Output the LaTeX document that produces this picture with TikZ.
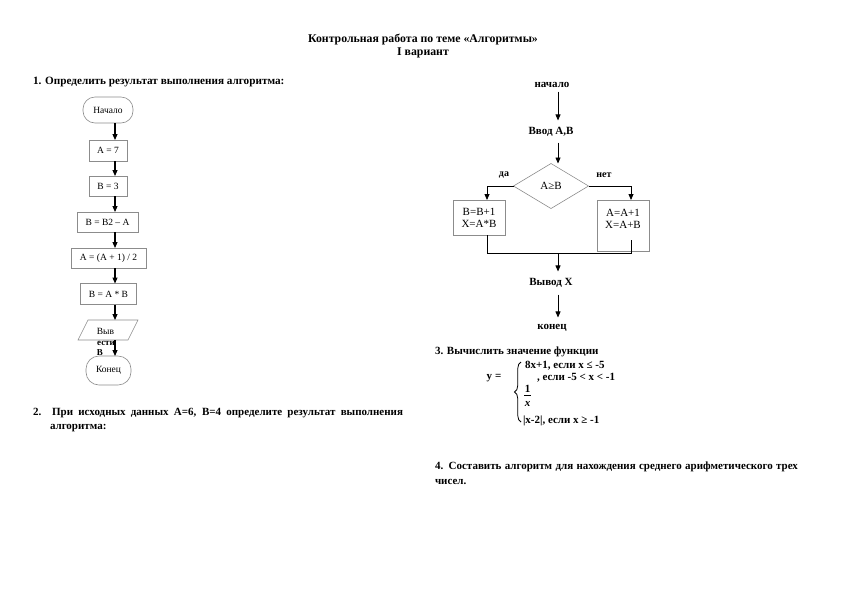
\documentclass[tikz,border=0pt]{standalone}
\usepackage{fontspec}
\setmainfont{Liberation Serif}
\usetikzlibrary{arrows.meta,shapes.geometric,decorations.pathreplacing,calc}
\begin{document}
\begin{tikzpicture}[x=1pt,y=-1pt,
  every node/.style={inner sep=0pt,outer sep=0pt},
  bt/.style={font=\bfseries\fontsize{11}{13}\selectfont},
  lbx/.style={draw=black!45,line width=0.6pt,fill=white,minimum height=21pt,font=\fontsize{9.5}{11}\selectfont},
  lterm/.style={lbx,rounded corners=12pt,minimum height=26pt},
  larr/.style={-{Triangle[length=6pt,width=5pt]},line width=1.1pt},
  rbx/.style={draw=black!45,line width=0.6pt,font=\fontsize{11}{12}\selectfont,align=center},
  rarr/.style={-{Triangle[length=6pt,width=5pt]},line width=0.8pt},
  rln/.style={line width=0.8pt}]
\useasboundingbox (0,0) rectangle (842,595);
\fill[white] (0,0) rectangle (842,595);

% title
\node[font=\bfseries\fontsize{11.8}{14}\selectfont] (title) at (423,40) {Контрольная работа по теме «Алгоритмы»};
\node[font=\bfseries\fontsize{11.8}{14}\selectfont] (var) at (423,53) {I вариант};

% item 1
\node[font=\bfseries\fontsize{11.2}{13}\selectfont,anchor=west] (q1) at (33,82) {1. Определить результат выполнения алгоритма:};

% left flowchart
\coordinate (ax) at (115,0);
\node[lterm,minimum width=50pt] (n0) at (108,110) {Начало};
\node[lbx,minimum width=38pt] (n1) at (108,150.5) {A = 7};
\node[lbx,minimum width=38pt,minimum height=20pt] (n2) at (108,186) {B = 3};
\node[lbx,minimum width=61pt,minimum height=20pt] (n3) at (107.5,222) {B = B2 – A};
\node[lbx,minimum width=75pt,minimum height=20pt] (n4) at (108.5,258) {A = (A + 1) / 2};
\node[lbx,minimum width=56pt,minimum height=21pt] (n5) at (108.5,294) {B = A * B};
\node[minimum width=60pt,minimum height=20pt] (n6) at (108,330) {};
\draw[draw=black!45,line width=0.6pt] ($(n6.north west)+(10,0)$) -- (n6.north east) -- ($(n6.south east)+(-10,0)$) -- (n6.south west) -- cycle;
\node[font=\fontsize{9.5}{11}\selectfont] (n6t) at (105.5,331) {Выв};
\node[font=\bfseries\fontsize{9}{10}\selectfont] (n6u) at (106,343) {ести};
\node[font=\bfseries\fontsize{9}{10}\selectfont] (n6v) at (100,353) {В};
\node[lterm,minimum width=45pt,minimum height=29pt,rounded corners=13pt] (n7) at (108.5,370.5) {Конец};
\draw[larr] (n0.south -| ax) -- (n1.north -| ax);
\draw[larr] (n1.south -| ax) -- (n2.north -| ax);
\draw[larr] (n2.south -| ax) -- (n3.north -| ax);
\draw[larr] (n3.south -| ax) -- (n4.north -| ax);
\draw[larr] (n4.south -| ax) -- (n5.north -| ax);
\draw[larr] (n5.south -| ax) -- (n6.north -| ax);
\draw[larr] (n6.south -| ax) -- (n7.north -| ax);

% item 2
\node[bt,anchor=west] (q2a) at (33,413) {\makebox[370pt][s]{2. При исходных данных А=6, В=4 определите результат выполнения}};
\node[bt,anchor=west] (q2b) at (50,428) {алгоритма:};

% right flowchart
\coordinate (bx) at (558,0);
\coordinate (lx) at (487,0);
\coordinate (rx) at (631,0);
\coordinate (my) at (0,253);
\node[bt] (r1) at (552,85) {начало};
\node[bt] (r2) at (551,132) {Ввод А,В};
\node[diamond,draw=black!45,line width=0.6pt,minimum width=75pt,minimum height=45pt,font=\fontsize{11}{12}\selectfont] (rd) at (551,186) {A≥B};
\node[bt,font=\bfseries\fontsize{10}{12}\selectfont] (lda) at (504,175) {да};
\node[bt,font=\bfseries\fontsize{10}{12}\selectfont] (lnet) at (604,175) {нет};
\node[rbx,minimum width=52pt,minimum height=35pt] (lb) at (479,217.5) {B=B+1\\X=A*B};
\node[rbx,minimum width=52pt,minimum height=51pt] (rb) at (623,225.5) {};
\node[font=\fontsize{11}{12}\selectfont,align=center] (rbt) at (623,219) {A=A+1\\X=A+B};
\coordinate (rtop) at (631,240);
\node[bt] (r3) at (551,283) {Вывод Х};
\node[bt] (r4) at (552,328) {конец};
\draw[rarr,shorten <=4pt,shorten >=7pt] (r1.south -| bx) -- (r2.north -| bx);
\draw[rarr,shorten <=6pt] (r2.south -| bx) -- (rd.north -| bx);
\draw[rarr] (rd.west) -| (lx |- lb.north);
\draw[rarr] (rd.east) -| (rx |- rb.north);
\draw[rln] (lx |- lb.south) -- (lx |- my) -- (rx |- my) -- (rtop);
\draw[rarr,shorten >=7pt] (bx |- my) -- (r3.north -| bx);
\draw[rarr,shorten <=7pt,shorten >=7pt] (r3.south -| bx) -- (r4.north -| bx);

% item 3
\node[bt,anchor=west] (q3) at (435,352) {3. Вычислить значение функции};
\node[bt] (fy) at (494,378) {y =};
\coordinate (brb) at (521,422);
\coordinate (brt) at (521,362);
\draw[line width=0.8pt,decorate,decoration={brace,amplitude=6.5pt}] (brb) -- (brt);
\node[bt,anchor=west] (c1) at (525,366) {8x+1, если x ≤ -5};
\node[bt,anchor=west] (c2) at (537,378) {, если -5 < x < -1};
\node[bt] (f1) at (527.5,389) {1};
\node[bt] (fx) at (527.5,404) {\textit{x}};
\draw[line width=0.9pt] (524,395.5) -- (531,395.5);
\node[bt,anchor=west] (c3) at (523,421) {|x-2|, если x ≥ -1};

% item 4
\node[bt,anchor=west] (q4a) at (435,467) {\makebox[363pt][s]{4. Составить алгоритм для нахождения среднего арифметического трех}};
\node[bt,anchor=west] (q4b) at (435,482) {чисел.};
\end{tikzpicture}
\end{document}
